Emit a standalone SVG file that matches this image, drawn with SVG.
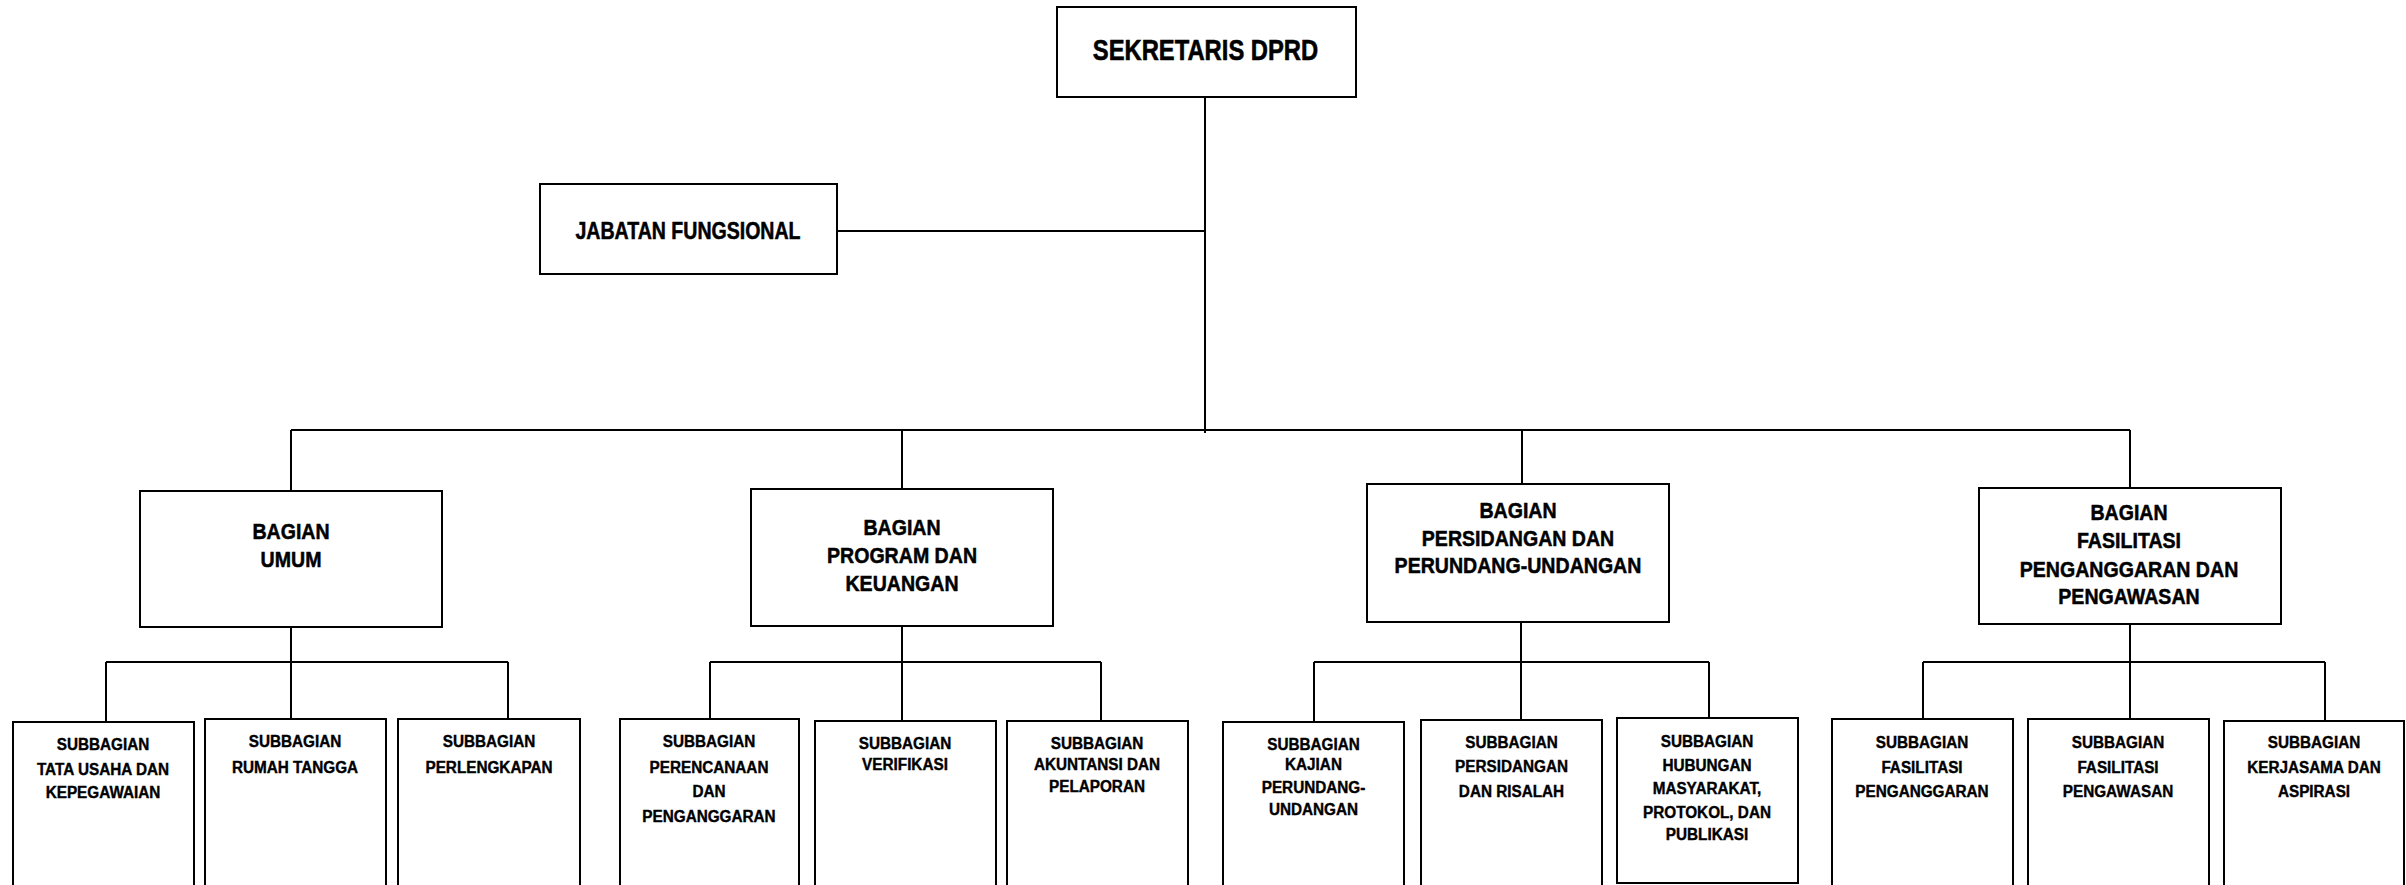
<svg xmlns="http://www.w3.org/2000/svg" width="2406" height="885" viewBox="0 0 2406 885">
<style>
  .box { fill: #ffffff; stroke: #000000; stroke-width: 2; }
  .con { fill: none; stroke: #000000; stroke-width: 2; }
  text { font-family: "Liberation Sans", Arial, sans-serif; font-weight: bold; fill: #000000; text-anchor: middle; stroke: #000000; stroke-width: 0.4; }
  .t1 { font-size: 29px; stroke-width: 0.6; }
  .t2 { font-size: 23px; stroke-width: 0.5; }
  .t3 { font-size: 22px; stroke-width: 0.5; }
  .t4 { font-size: 17px; }
</style>
<rect x="0" y="0" width="2406" height="885" fill="#ffffff"/>

<g id="connectors">
  <path class="con" d="M1205,97 V433"/>
  <path class="con" d="M837,231 H1205"/>
  <path class="con" d="M291,430 H2130"/>
  <path class="con" d="M291,430 V491 M902,430 V489 M1522,430 V484 M2130,430 V488"/>
  <path class="con" d="M291,627 V719 M106,662 H508 M106,662 V722 M508,662 V719"/>
  <path class="con" d="M902,626 V721 M710,662 H1101 M710,662 V719 M1101,662 V721"/>
  <path class="con" d="M1521,622 V720 M1314,662 H1709 M1314,662 V722 M1709,662 V718"/>
  <path class="con" d="M2130,624 V719 M1923,662 H2325 M1923,662 V719 M2325,662 V721"/>
</g>

<g id="sekretaris">
  <rect class="box" x="1057" y="7" width="299" height="90"/>
  <g transform="translate(1205.5,0) scale(0.82,1)"><text class="t1" x="0" y="60">SEKRETARIS DPRD</text></g>
</g>

<g id="jabatan-fungsional">
  <rect class="box" x="540" y="184" width="297" height="90"/>
  <g transform="translate(688,0) scale(0.85,1)"><text class="t2" x="0" y="239">JABATAN FUNGSIONAL</text></g>
</g>

<g id="bagian-umum">
  <rect class="box" x="140" y="491" width="302" height="136"/>
  <g transform="translate(291,0) scale(0.89,1)">
    <text class="t3" x="0" y="539">BAGIAN</text>
    <text class="t3" x="0" y="567">UMUM</text>
  </g>
</g>

<g id="bagian-program">
  <rect class="box" x="751" y="489" width="302" height="137"/>
  <g transform="translate(902,0) scale(0.89,1)">
    <text class="t3" x="0" y="535">BAGIAN</text>
    <text class="t3" x="0" y="563">PROGRAM DAN</text>
    <text class="t3" x="0" y="591">KEUANGAN</text>
  </g>
</g>

<g id="bagian-persidangan">
  <rect class="box" x="1367" y="484" width="302" height="138"/>
  <g transform="translate(1518,0) scale(0.89,1)">
    <text class="t3" x="0" y="518">BAGIAN</text>
    <text class="t3" x="0" y="546">PERSIDANGAN DAN</text>
    <text class="t3" x="0" y="573">PERUNDANG-UNDANGAN</text>
  </g>
</g>

<g id="bagian-fasilitasi">
  <rect class="box" x="1979" y="488" width="302" height="136"/>
  <g transform="translate(2129,0) scale(0.89,1)">
    <text class="t3" x="0" y="520">BAGIAN</text>
    <text class="t3" x="0" y="548">FASILITASI</text>
    <text class="t3" x="0" y="577">PENGANGGARAN DAN</text>
    <text class="t3" x="0" y="604">PENGAWASAN</text>
  </g>
</g>

<g id="sub-tata-usaha">
  <rect class="box" x="13" y="722" width="181" height="180"/>
  <g transform="translate(103,0) scale(0.9,1)">
    <text class="t4" x="0" y="750">SUBBAGIAN</text>
    <text class="t4" x="0" y="775">TATA USAHA DAN</text>
    <text class="t4" x="0" y="798">KEPEGAWAIAN</text>
  </g>
</g>

<g id="sub-rumah-tangga">
  <rect class="box" x="205" y="719" width="181" height="180"/>
  <g transform="translate(295,0) scale(0.9,1)">
    <text class="t4" x="0" y="747">SUBBAGIAN</text>
    <text class="t4" x="0" y="773">RUMAH TANGGA</text>
  </g>
</g>

<g id="sub-perlengkapan">
  <rect class="box" x="398" y="719" width="182" height="180"/>
  <g transform="translate(489,0) scale(0.9,1)">
    <text class="t4" x="0" y="747">SUBBAGIAN</text>
    <text class="t4" x="0" y="773">PERLENGKAPAN</text>
  </g>
</g>

<g id="sub-perencanaan">
  <rect class="box" x="620" y="719" width="179" height="180"/>
  <g transform="translate(709,0) scale(0.9,1)">
    <text class="t4" x="0" y="747">SUBBAGIAN</text>
    <text class="t4" x="0" y="773">PERENCANAAN</text>
    <text class="t4" x="0" y="797">DAN</text>
    <text class="t4" x="0" y="822">PENGANGGARAN</text>
  </g>
</g>

<g id="sub-verifikasi">
  <rect class="box" x="815" y="721" width="181" height="180"/>
  <g transform="translate(905,0) scale(0.9,1)">
    <text class="t4" x="0" y="749">SUBBAGIAN</text>
    <text class="t4" x="0" y="770">VERIFIKASI</text>
  </g>
</g>

<g id="sub-akuntansi">
  <rect class="box" x="1007" y="721" width="181" height="180"/>
  <g transform="translate(1097,0) scale(0.9,1)">
    <text class="t4" x="0" y="749">SUBBAGIAN</text>
    <text class="t4" x="0" y="770">AKUNTANSI DAN</text>
    <text class="t4" x="0" y="792">PELAPORAN</text>
  </g>
</g>

<g id="sub-kajian">
  <rect class="box" x="1223" y="722" width="181" height="180"/>
  <g transform="translate(1313.5,0) scale(0.9,1)">
    <text class="t4" x="0" y="750">SUBBAGIAN</text>
    <text class="t4" x="0" y="770">KAJIAN</text>
    <text class="t4" x="0" y="793">PERUNDANG-</text>
    <text class="t4" x="0" y="815">UNDANGAN</text>
  </g>
</g>

<g id="sub-persidangan-risalah">
  <rect class="box" x="1421" y="720" width="181" height="180"/>
  <g transform="translate(1511.5,0) scale(0.9,1)">
    <text class="t4" x="0" y="748">SUBBAGIAN</text>
    <text class="t4" x="0" y="772">PERSIDANGAN</text>
    <text class="t4" x="0" y="797">DAN RISALAH</text>
  </g>
</g>

<g id="sub-hubungan">
  <rect class="box" x="1617" y="718" width="181" height="165"/>
  <g transform="translate(1707,0) scale(0.9,1)">
    <text class="t4" x="0" y="747">SUBBAGIAN</text>
    <text class="t4" x="0" y="771">HUBUNGAN</text>
    <text class="t4" x="0" y="794">MASYARAKAT,</text>
    <text class="t4" x="0" y="818">PROTOKOL, DAN</text>
    <text class="t4" x="0" y="840">PUBLIKASI</text>
  </g>
</g>

<g id="sub-fasilitasi-penganggaran">
  <rect class="box" x="1832" y="719" width="181" height="180"/>
  <g transform="translate(1922,0) scale(0.9,1)">
    <text class="t4" x="0" y="748">SUBBAGIAN</text>
    <text class="t4" x="0" y="773">FASILITASI</text>
    <text class="t4" x="0" y="797">PENGANGGARAN</text>
  </g>
</g>

<g id="sub-fasilitasi-pengawasan">
  <rect class="box" x="2028" y="719" width="181" height="180"/>
  <g transform="translate(2118,0) scale(0.9,1)">
    <text class="t4" x="0" y="748">SUBBAGIAN</text>
    <text class="t4" x="0" y="773">FASILITASI</text>
    <text class="t4" x="0" y="797">PENGAWASAN</text>
  </g>
</g>

<g id="sub-kerjasama">
  <rect class="box" x="2224" y="721" width="180" height="180"/>
  <g transform="translate(2314,0) scale(0.9,1)">
    <text class="t4" x="0" y="748">SUBBAGIAN</text>
    <text class="t4" x="0" y="773">KERJASAMA DAN</text>
    <text class="t4" x="0" y="797">ASPIRASI</text>
  </g>
</g>
</svg>
